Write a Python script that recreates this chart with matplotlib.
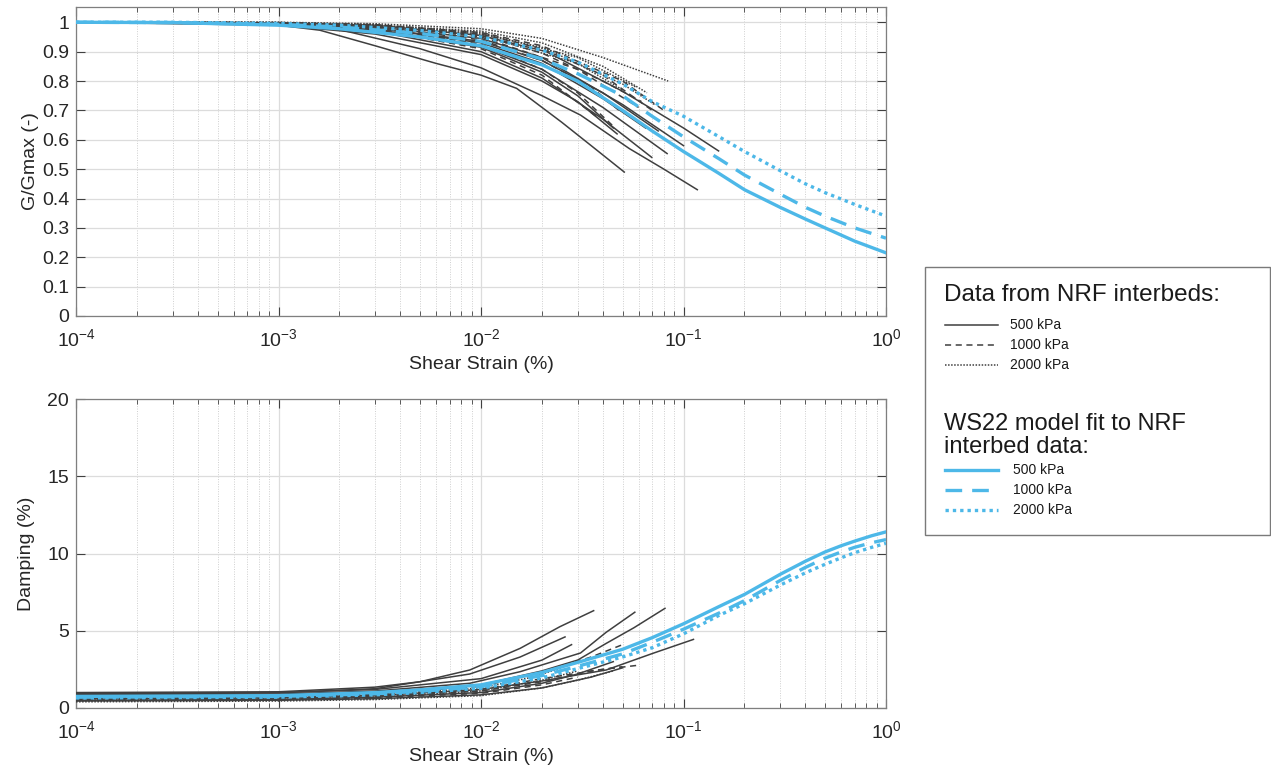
import matplotlib
matplotlib.use("Agg")
import matplotlib.pyplot as plt
from matplotlib.lines import Line2D
from matplotlib.patches import Rectangle
from matplotlib.ticker import LogLocator, NullFormatter, FixedLocator

plt.rcParams['font.family'] = ['Liberation Sans', 'DejaVu Sans']
plt.rcParams['mathtext.fontset'] = 'custom'
plt.rcParams['mathtext.rm'] = 'Liberation Sans'
plt.rcParams['axes.unicode_minus'] = False

# ---------------- data ----------------
# Modulus reduction, lab data 500 kPa (solid grey): (strain %, G/Gmax)
ggmax_500 = [
    ([1e-4, 5e-4, 1e-3, 1.6e-3, 3e-3, 6e-3, 1e-2, 1.5e-2, 2.5e-2, 3.5e-2, 5.1e-2],
     [1.0, 0.997, 0.99, 0.973, 0.92, 0.86, 0.82, 0.775, 0.66, 0.58, 0.49]),
    ([1e-4, 1e-3, 2e-3, 5e-3, 1e-2, 2e-2, 3.1e-2, 5.4e-2, 8e-2, 0.117],
     [1.0, 0.993, 0.975, 0.91, 0.845, 0.75, 0.684, 0.57, 0.5, 0.43]),
    ([1e-4, 1e-3, 3e-3, 1e-2, 2.1e-2, 5e-2, 0.1, 0.149],
     [1.0, 0.998, 0.99, 0.955, 0.9, 0.765, 0.64, 0.562]),
    ([1e-4, 1e-3, 3e-3, 1e-2, 2e-2, 4e-2, 0.083],
     [1.0, 0.995, 0.975, 0.92, 0.84, 0.71, 0.553]),
    ([1e-4, 1e-3, 3e-3, 1e-2, 2e-2, 4e-2, 0.0697],
     [1.0, 0.994, 0.97, 0.9, 0.81, 0.67, 0.54]),
    ([1e-4, 1e-3, 3e-3, 1e-2, 2e-2, 3e-2, 0.045],
     [1.0, 0.995, 0.975, 0.915, 0.83, 0.75, 0.64]),
    ([1e-4, 1e-3, 3e-3, 1e-2, 2e-2, 4e-2, 0.065],
     [1.0, 0.996, 0.98, 0.93, 0.86, 0.74, 0.64]),
    ([1e-4, 1e-3, 3e-3, 1e-2, 2e-2, 5e-2, 0.1],
     [1.0, 0.998, 0.985, 0.945, 0.88, 0.72, 0.58]),
    ([1e-4, 1e-3, 3e-3, 1e-2, 2e-2, 4e-2, 0.075],
     [1.0, 0.997, 0.98, 0.935, 0.87, 0.76, 0.63]),
    ([1e-4, 1e-3, 3e-3, 1e-2, 2e-2, 3e-2, 0.047],
     [1.0, 0.99, 0.96, 0.89, 0.8, 0.73, 0.62]),
]
# lab data 1000 kPa (dashed grey)
ggmax_1000 = [
    ([1e-4, 1e-3, 3e-3, 1e-2, 2e-2, 4e-2, 0.07], [1.0, 0.998, 0.99, 0.96, 0.91, 0.82, 0.7]),
    ([1e-4, 1e-3, 3e-3, 1e-2, 2e-2, 0.035, 0.048], [1.0, 0.997, 0.985, 0.94, 0.87, 0.78, 0.7]),
    ([1e-4, 1e-3, 3e-3, 1e-2, 2e-2, 3e-2, 0.046], [1.0, 0.996, 0.98, 0.925, 0.84, 0.76, 0.64]),
    ([1e-4, 1e-3, 3e-3, 1e-2, 2e-2, 5e-2, 0.08], [1.0, 0.999, 0.992, 0.965, 0.92, 0.8, 0.7]),
    ([1e-4, 1e-3, 3e-3, 1e-2, 3e-2, 0.06], [1.0, 0.998, 0.99, 0.95, 0.84, 0.71]),
    ([1e-4, 1e-3, 3e-3, 1e-2, 2e-2, 0.037], [1.0, 0.995, 0.975, 0.91, 0.82, 0.68]),
    ([1e-4, 1e-3, 3e-3, 1e-2, 2e-2, 4e-2, 0.062], [1.0, 0.998, 0.99, 0.955, 0.895, 0.8, 0.73]),
]
# lab data 2000 kPa (dotted grey)
ggmax_2000 = [
    ([1e-4, 1e-3, 3e-3, 1e-2, 2e-2, 4e-2, 0.084], [1.0, 1.0, 0.995, 0.978, 0.945, 0.88, 0.8]),
    ([1e-4, 1e-3, 3e-3, 1e-2, 2e-2, 4e-2, 0.066], [1.0, 0.999, 0.99, 0.97, 0.93, 0.85, 0.76]),
    ([1e-4, 1e-3, 3e-3, 1e-2, 3e-2, 0.058], [1.0, 0.999, 0.99, 0.965, 0.88, 0.78]),
    ([1e-4, 1e-3, 3e-3, 1e-2, 2e-2, 5e-2, 0.072], [1.0, 0.999, 0.99, 0.96, 0.915, 0.79, 0.72]),
    ([1e-4, 1e-3, 3e-3, 1e-2, 3e-2, 0.05], [1.0, 0.998, 0.988, 0.955, 0.86, 0.77]),
]

# WS22 model fit (blue)
model_strain = [1e-4, 3e-4, 1e-3, 2e-3, 5e-3, 1e-2, 2e-2, 3e-2, 5e-2, 0.07, 0.1,
                0.15, 0.2, 0.3, 0.4, 0.5, 0.7, 1.0]
model_g_500 = [1.0, 0.999, 0.99, 0.978, 0.95, 0.92, 0.855, 0.8, 0.70, 0.63, 0.56,
               0.485, 0.43, 0.37, 0.33, 0.30, 0.255, 0.215]
model_g_1000 = [1.0, 0.999, 0.993, 0.984, 0.962, 0.935, 0.875, 0.825, 0.75, 0.68, 0.61,
                0.535, 0.48, 0.415, 0.37, 0.34, 0.30, 0.265]
model_g_2000 = [1.0, 1.0, 0.996, 0.99, 0.972, 0.95, 0.905, 0.865, 0.79, 0.73, 0.68,
                0.61, 0.56, 0.495, 0.45, 0.42, 0.38, 0.34]

# Damping, lab data (strain %, damping %)
damp_500 = [
    ([1e-4, 1e-3, 3e-3, 5e-3, 8.8e-3, 1.56e-2, 2.45e-2, 3.6e-2], [1.0, 1.05, 1.35, 1.7, 2.46, 3.86, 5.26, 6.3]),
    ([1e-4, 1e-3, 3e-3, 8.8e-3, 1.56e-2, 2.6e-2], [0.9, 0.98, 1.25, 2.2, 3.3, 4.6]),
    ([1e-4, 1e-3, 3e-3, 8.8e-3, 1.56e-2, 3.1e-2, 4.15e-2, 5.75e-2], [0.85, 0.9, 1.1, 1.6, 2.35, 3.56, 4.9, 6.2]),
    ([1e-4, 1e-3, 3e-3, 1e-2, 2e-2, 3e-2, 4.15e-2, 5.7e-2, 8.1e-2], [0.8, 0.85, 1.0, 1.5, 2.4, 3.1, 4.18, 5.2, 6.45]),
    ([1e-4, 1e-3, 3e-3, 1e-2, 2e-2, 4.15e-2, 7.1e-2, 0.112], [0.6, 0.65, 0.8, 1.2, 1.75, 2.46, 3.55, 4.44]),
    ([1e-4, 1e-3, 3e-3, 1e-2, 2e-2, 2.8e-2], [0.95, 1.0, 1.2, 1.9, 3.1, 4.1]),
    ([1e-4, 1e-3, 3e-3, 1e-2, 2e-2, 3e-2, 4.5e-2], [0.5, 0.55, 0.7, 1.0, 1.6, 2.2, 3.0]),
    ([1e-4, 1e-3, 3e-3, 1e-2, 2e-2, 3.5e-2, 5e-2], [0.45, 0.5, 0.6, 0.85, 1.3, 2.0, 2.6]),
]
damp_1000 = [
    ([1e-4, 1e-3, 3e-3, 1e-2, 2e-2, 3.5e-2, 5e-2], [0.55, 0.6, 0.75, 1.1, 1.7, 2.4, 2.67]),
    ([1e-4, 1e-3, 3e-3, 1e-2, 2e-2, 4e-2, 6.1e-2], [0.6, 0.65, 0.8, 1.2, 1.9, 2.5, 2.78]),
    ([1e-4, 1e-3, 3e-3, 1e-2, 2e-2, 3.5e-2, 5e-2], [0.7, 0.75, 0.9, 1.4, 2.3, 3.3, 4.1]),
    ([1e-4, 1e-3, 3e-3, 1e-2, 2e-2, 3e-2], [0.5, 0.55, 0.65, 0.95, 1.5, 2.0]),
]
damp_2000 = [
    ([1e-4, 1e-3, 3e-3, 1e-2, 2e-2, 3e-2, 4.5e-2], [0.4, 0.45, 0.55, 0.8, 1.3, 1.8, 2.4]),
    ([1e-4, 1e-3, 3e-3, 1e-2, 2e-2, 3e-2], [0.5, 0.55, 0.7, 1.1, 1.8, 2.4]),
    ([1e-4, 1e-3, 3e-3, 1e-2, 1.8e-2, 2.5e-2], [0.65, 0.7, 0.85, 1.3, 2.0, 2.6]),
]

damp_model_strain = [1e-4, 1e-3, 3e-3, 5e-3, 1e-2, 2e-2, 3e-2, 5e-2, 0.07, 0.1,
                     0.15, 0.2, 0.3, 0.4, 0.5, 0.6, 0.7, 0.85, 1.0]
damp_model_500 = [0.75, 0.8, 1.0, 1.17, 1.5, 2.3, 2.95, 3.8, 4.55, 5.45,
                  6.57, 7.35, 8.65, 9.5, 10.1, 10.5, 10.8, 11.15, 11.4]
damp_model_1000 = [0.7, 0.75, 0.92, 1.08, 1.38, 2.1, 2.7, 3.5, 4.25, 5.1,
                   6.15, 6.95, 8.25, 9.1, 9.7, 10.1, 10.4, 10.7, 10.9]
damp_model_2000 = [0.65, 0.7, 0.85, 1.0, 1.28, 1.95, 2.55, 3.3, 3.9, 4.8,
                   6.0, 6.75, 7.95, 8.75, 9.3, 9.72, 10.05, 10.4, 10.66]

legend_title_data = "Data from NRF interbeds:"
legend_title_model = ["WS22 model fit to NRF", "interbed data:"]
pressure_labels = ["500 kPa", "1000 kPa", "2000 kPa"]

# ---------------- style ----------------
GREY = '#3f3f3f'
BLUE = '#4db8e8'
grey_styles = ['-', (0, (4, 3)), (0, (1, 1))]
blue_styles = ['-', (0, (5, 3)), (0, (1, 1.2))]
GREY_LW = 1.1
BLUE_LW = 2.4
TXT = '#262626'

W, H = 1271, 778
fig = plt.figure(figsize=(W / 100, H / 100), dpi=100)

def fx(px):
    return px / W

def fy(py):
    return 1 - py / H

ax1 = fig.add_axes([fx(76), fy(316), fx(886) - fx(76), fy(7) - fy(316)])
ax2 = fig.add_axes([fx(76), fy(708), fx(886) - fx(76), fy(399) - fy(708)])

for groups, ax in [((ggmax_500, ggmax_1000, ggmax_2000), ax1),
                   ((damp_500, damp_1000, damp_2000), ax2)]:
    for grp, ls in zip(groups, grey_styles):
        for xs, ys in grp:
            ax.plot(xs, ys, color=GREY, lw=GREY_LW, linestyle=ls, zorder=3)

for ys, ls in zip([model_g_500, model_g_1000, model_g_2000], blue_styles):
    ax1.plot(model_strain, ys, color=BLUE, lw=BLUE_LW, linestyle=ls, zorder=4)
for ys, ls in zip([damp_model_500, damp_model_1000, damp_model_2000], blue_styles):
    ax2.plot(damp_model_strain, ys, color=BLUE, lw=BLUE_LW, linestyle=ls, zorder=4)

for ax in (ax1, ax2):
    ax.set_xscale('log')
    ax.set_xlim(1e-4, 1)
    ax.xaxis.set_major_locator(LogLocator(base=10, numticks=10))
    ax.xaxis.set_minor_locator(LogLocator(base=10, subs=range(2, 10), numticks=20))
    ax.xaxis.set_minor_formatter(NullFormatter())
    ax.grid(True, which='major', color='#dcdcdc', lw=0.9, linestyle='-', zorder=0)
    ax.grid(True, which='minor', axis='x', color='#cfcfcf', lw=0.7, linestyle=(0, (1, 1.5)), zorder=0)
    ax.tick_params(which='both', direction='in', top=True, right=True,
                   color='#404040', labelcolor=TXT)
    ax.tick_params(axis='x', labelsize=14, pad=9)
    ax.tick_params(axis='y', labelsize=14, pad=5)
    ax.tick_params(which='major', length=6.5, width=0.8)
    ax.tick_params(which='minor', length=3.5, width=0.6)
    for sp in ax.spines.values():
        sp.set_color('#7f7f7f')
        sp.set_linewidth(0.9)
    ax.set_xlabel('Shear Strain (%)', fontsize=14, color=TXT, labelpad=4)
    ax.set_axisbelow(True)

ax1.set_ylim(0, 1.052)
ax1.yaxis.set_major_locator(FixedLocator([i / 10 for i in range(11)]))
ax1.set_yticklabels(['0'] + ['%.1f' % (i / 10) for i in range(1, 10)] + ['1'])
ax1.set_ylabel('G/Gmax (-)', fontsize=14, color=TXT, labelpad=2)

ax2.set_ylim(0, 20)
ax2.set_yticks([0, 5, 10, 15, 20])
ax2.set_ylabel('Damping (%)', fontsize=14, color=TXT, labelpad=9)

# ---------------- legend ----------------
fig.add_artist(Rectangle((fx(925), fy(535)), fx(1270) - fx(925), fy(267) - fy(535),
                         transform=fig.transFigure, facecolor='white', edgecolor='#7a7a7a', lw=1.0))
fig.text(fx(944), fy(295), legend_title_data, fontsize=17.5, va='center', ha='left', color='#1a1a1a')
for i, (lab, ls) in enumerate(zip(pressure_labels, grey_styles)):
    yy = fy(325 + 20 * i)
    fig.add_artist(Line2D([fx(945), fx(998)], [yy, yy], transform=fig.transFigure,
                          color=GREY, lw=GREY_LW, linestyle=ls))
    fig.text(fx(1010), yy, lab, fontsize=10, va='center', ha='left', color='#1a1a1a')
fig.text(fx(944), fy(424), legend_title_model[0], fontsize=17, va='center', ha='left', color='#1a1a1a')
fig.text(fx(944), fy(447), legend_title_model[1], fontsize=17, va='center', ha='left', color='#1a1a1a')
for i, (lab, ls) in enumerate(zip(pressure_labels, blue_styles)):
    yy = fy(470 + 20 * i)
    fig.add_artist(Line2D([fx(945), fx(998)], [yy, yy], transform=fig.transFigure,
                          color=BLUE, lw=BLUE_LW, linestyle=ls))
    fig.text(fx(1013), yy, lab, fontsize=10, va='center', ha='left', color='#1a1a1a')

fig.savefig('out.png', dpi=100)
